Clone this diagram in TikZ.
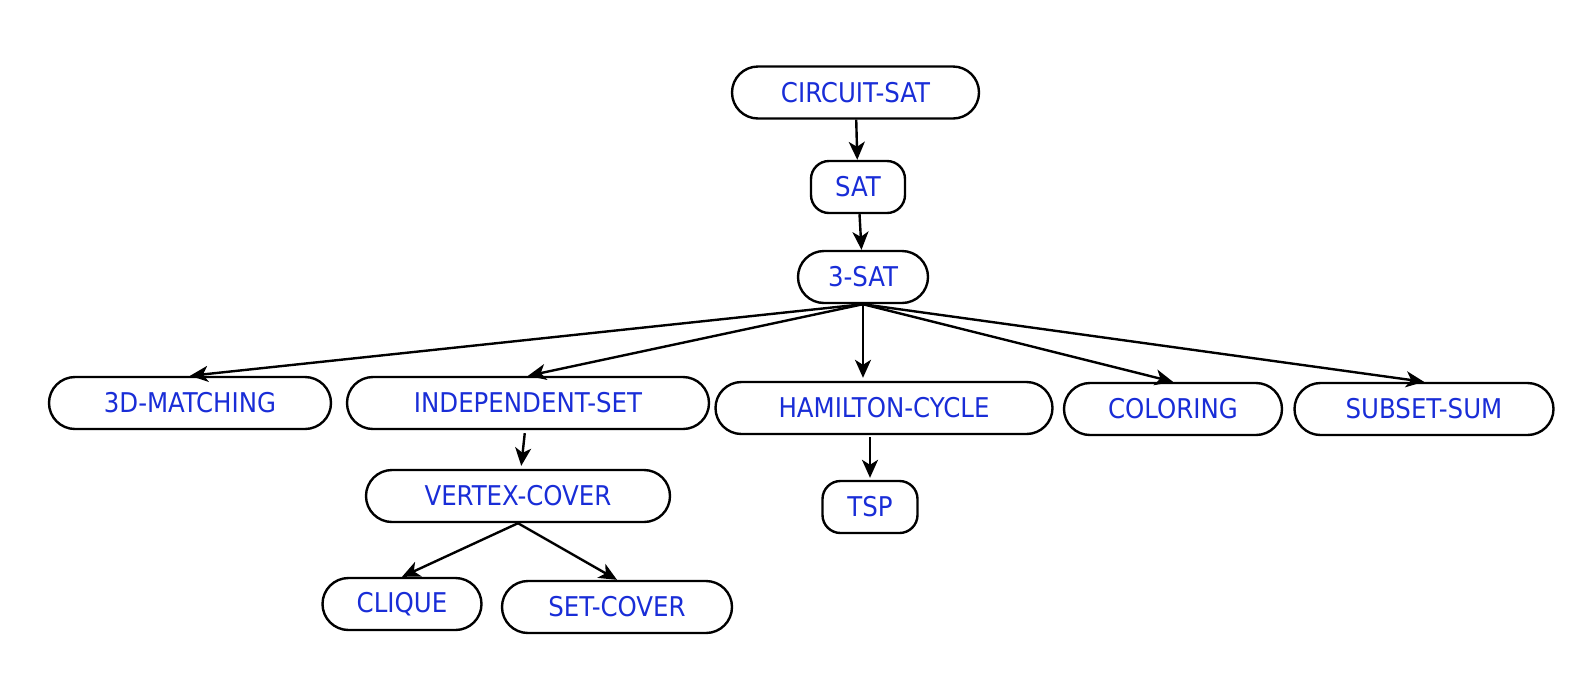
\documentclass[tikz,border=0pt]{standalone}
\usepackage{fontspec}
\setsansfont{DejaVu Sans Condensed}
\usetikzlibrary{arrows.meta,calc}
\definecolor{probblue}{RGB}{25,45,215}
\tikzset{
	prob/.style={draw, line width=1.2pt, rounded corners=13pt, inner sep=0pt, minimum height=26pt, text=probblue, font=\sffamily\fontsize{13.6}{16}\selectfont},
	short/.style={rounded corners=9pt},
	arr/.style={-{Stealth[length=9pt,width=8pt,inset=2.5pt]}, line width=1.2pt}
}
\begin{document}
\begin{tikzpicture}[x=0.5pt,y=-0.5pt]
		\useasboundingbox (0,0) rectangle (1596,676);
		\coordinate (CS) at (855.5,92.5);
		\coordinate (S) at (858,187);
		\coordinate (S3) at (863,277);
		\coordinate (DM) at (190,403);
		\coordinate (IS) at (528,403);
		\coordinate (HC) at (884,408);
		\coordinate (CO) at (1173,409);
		\coordinate (SS) at (1424,409);
		\coordinate (VC) at (518,496);
		\coordinate (T) at (870,507);
		\coordinate (CL) at (402,604);
		\coordinate (SC) at (617,607);
		\node[prob, minimum width=123.5pt] (circ) at (CS) {CIRCUIT-SAT};
		\node[prob, short, minimum width=47pt] (sat) at (S) {SAT};
		\node[prob, minimum width=65pt] (sat3) at (S3) {3-SAT};
		\node[prob, minimum width=141pt] (match) at (DM) {3D-MATCHING};
		\node[prob, minimum width=181pt] (indep) at (IS) {INDEPENDENT-SET};
		\node[prob, minimum width=168.5pt] (ham) at (HC) {HAMILTON-CYCLE};
		\node[prob, minimum width=109pt] (color) at (CO) {COLORING};
		\node[prob, minimum width=129.5pt] (subset) at (SS) {SUBSET-SUM};
		\node[prob, minimum width=152pt] (vertex) at (VC) {VERTEX-COVER};
		\node[prob, short, minimum width=47.5pt] (tsp) at (T) {TSP};
		\node[prob, minimum width=79.5pt] (clique) at (CL) {CLIQUE};
		\node[prob, minimum width=115pt] (setcov) at (SC) {SET-COVER};
		\draw[arr] (circ) -- (sat);
		\draw[arr] (sat) -- (sat3);
		\draw[arr] (sat3.south) -- (match.north);
		\draw[arr] (sat3.south) -- (indep.north);
		\draw[arr, shorten >=1.5pt] (sat3.south) -- (sat3.south |- ham.north);
		\draw[arr] (sat3.south) -- (color.north);
		\draw[arr] (sat3.south) -- (subset.north);
		\draw[arr, shorten <=1.5pt, shorten >=1.5pt] (indep) -- (vertex);
		\draw[arr, shorten <=1pt, shorten >=1pt] (tsp |- ham.south) -- (tsp.north);
		\draw[arr] (vertex.south) -- (clique.north);
		\draw[arr] (vertex.south) -- (setcov.north);
	\end{tikzpicture}
\end{document}
